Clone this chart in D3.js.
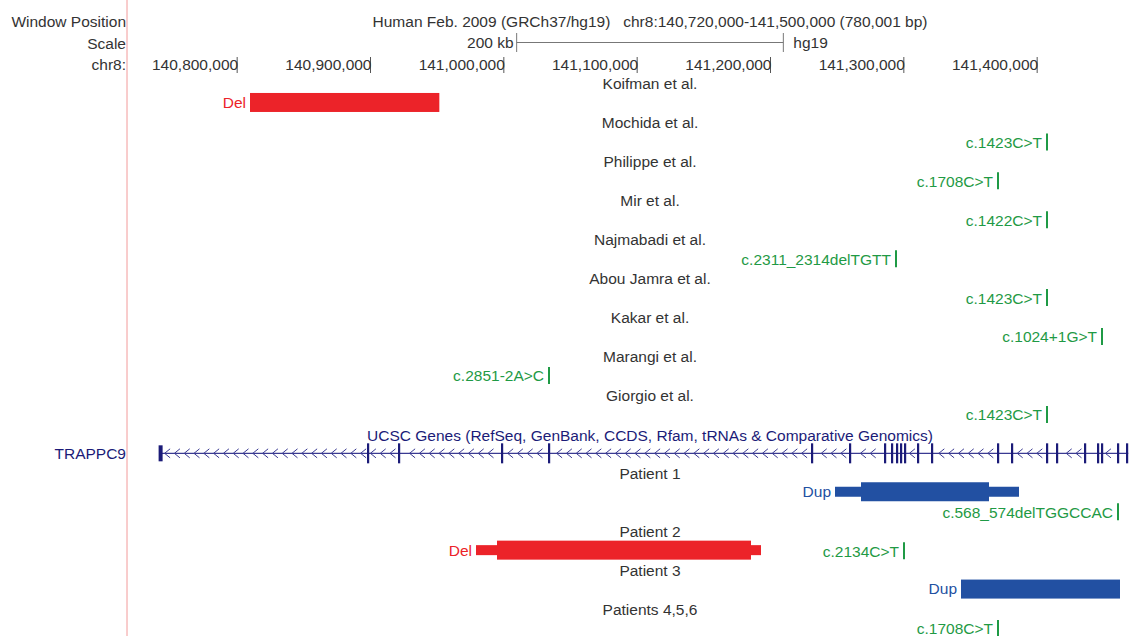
<!DOCTYPE html>
<html>
<head>
<meta charset="utf-8">
<script src="https://cdn.jsdelivr.net/npm/d3@7"></script>
<style>
  body { margin: 0; background: #fff; }
  text { font-family: "Liberation Sans", Arial, sans-serif; font-size: 15.5px; }
</style>
</head>
<body>
<div id="chart"></div>
<script>
// window shown in the browser
var windowStart = 140720000;
var windowEnd = 141500000;
var tickValues = [140800000, 140900000, 141000000, 141100000, 141200000, 141300000, 141400000];
var headerText = "Human Feb. 2009 (GRCh37/hg19)   chr8:140,720,000-141,500,000 (780,001 bp)";
var sideLabels = ["Window Position", "Scale", "chr8:"];

// published cases
var studies = ["Koifman et al.", "Mochida et al.", "Philippe et al.", "Mir et al.", "Najmabadi et al.",
               "Abou Jamra et al.", "Kakar et al.", "Marangi et al.", "Giorgio et al."];
var studyVariants = [
  {owner: "Koifman et al.", lane: 0, kind: "Del", start: 140810000, end: 140952000},
  {owner: "Mochida et al.", lane: 0, kind: "snv", name: "c.1423C>T", pos: 141407750},
  {owner: "Philippe et al.", lane: 0, kind: "snv", name: "c.1708C>T", pos: 141371000},
  {owner: "Mir et al.", lane: 0, kind: "snv", name: "c.1422C>T", pos: 141407750},
  {owner: "Najmabadi et al.", lane: 0, kind: "snv", name: "c.2311_2314delTGTT", pos: 141294500},
  {owner: "Abou Jamra et al.", lane: 0, kind: "snv", name: "c.1423C>T", pos: 141407750},
  {owner: "Kakar et al.", lane: 0, kind: "snv", name: "c.1024+1G>T", pos: 141449000},
  {owner: "Marangi et al.", lane: 0, kind: "snv", name: "c.2851-2A>C", pos: 141034250},
  {owner: "Giorgio et al.", lane: 0, kind: "snv", name: "c.1423C>T", pos: 141407750}
];

// gene model (TRAPPC9, minus strand)
var geneName = "TRAPPC9";
var geneTrackTitle = "UCSC Genes (RefSeq, GenBank, CCDS, Rfam, tRNAs & Comparative Genomics)";
var geneStart = 140742586;
var geneEnd = 141468678;
var exonStarts = [140742586, 140898500, 140921750, 140999000, 141034250, 141231500, 141260000,
                  141286250, 141291500, 141295250, 141298250, 141301250, 141311000, 141321500,
                  141371000, 141381500, 141407750, 141415250, 141436250, 141446000, 141449000,
                  141461000, 141467750];

// patients of this report
var patients = ["Patient 1", "Patient 2", "Patient 3", "Patients 4,5,6"];
var patientVariants = [
  {owner: "Patient 1", lane: 0, kind: "Dup", start: 141248750, end: 141386750, coreStart: 141268250, coreEnd: 141364250},
  {owner: "Patient 1", lane: 1, kind: "snv", name: "c.568_574delTGGCCAC", pos: 141461000},
  {owner: "Patient 2", lane: 0, kind: "Del", start: 140979500, end: 141193250, coreStart: 140995250, coreEnd: 141185750},
  {owner: "Patient 2", lane: 0, kind: "snv", name: "c.2134C>T", pos: 141300500},
  {owner: "Patient 3", lane: 0, kind: "Dup", start: 141343250, end: 141462500},
  {owner: "Patients 4,5,6", lane: 0, kind: "snv", name: "c.1708C>T", pos: 141371000}
];

var width = 1129, height = 636;
var grey = "#333", green = "#1f9a45", red = "#ec2329", blue = "#2250a2", navy = "#1b1b78";

var svg = d3.select("#chart").append("svg")
    .attr("width", width)
    .attr("height", height)

var x = d3.scaleLinear().domain([windowStart, windowEnd]).range([130, 1170]);
var mid = (windowStart + windowEnd) / 2;

// work out which row each thing goes in
var rowOf = {};
var row = 0;
studies.forEach(function(s) {
  rowOf[s] = row;
  var lanes = d3.max(studyVariants.filter(v => v.owner == s), v => v.lane) + 1;
  row += 1 + lanes;
});
var titleRow = row, geneRow = row + 1;
row += 2;
patients.forEach(function(p) {
  rowOf[p] = row;
  var lanes = d3.max(patientVariants.filter(v => v.owner == p), v => v.lane) + 1;
  row += 1 + lanes;
});
var y = d3.scaleLinear().domain([0, row - 1]).range([84, 629]);

// left border line
svg.append("line")
    .attr("x1", 127).attr("x2", 127).attr("y1", 0).attr("y2", height)
    .attr("stroke", "#f29a9a").attr("stroke-width", 1)

svg.selectAll(".side")
    .data(sideLabels)
    .enter().append("text")
    .attr("class", "side")
    .attr("x", 126)
    .attr("y", (d, i) => 27 + i * 21.5)
    .attr("text-anchor", "end")
    .attr("fill", grey)
    .text(d => d)

svg.append("text")
    .attr("x", x(mid)).attr("y", 27)
    .attr("text-anchor", "middle")
    .attr("fill", grey)
    .style("white-space", "pre")
    .text(headerText)

// scale bar
var sb = svg.append("g").attr("stroke", "#777").attr("stroke-width", 1)
sb.append("line").attr("x1", x(mid - 100000)).attr("x2", x(mid + 100000)).attr("y1", 42.5).attr("y2", 42.5)
sb.append("line").attr("x1", x(mid - 100000)).attr("x2", x(mid - 100000)).attr("y1", 33).attr("y2", 52)
sb.append("line").attr("x1", x(mid + 100000)).attr("x2", x(mid + 100000)).attr("y1", 33).attr("y2", 52)
svg.append("text").attr("x", x(mid - 100000) - 3).attr("y", 48)
    .attr("text-anchor", "end").attr("fill", grey).text("200 kb")
svg.append("text").attr("x", x(mid + 100000) + 10).attr("y", 48)
    .attr("fill", grey).text("hg19")

// chromosome axis
var axis = svg.append("g")
    .attr("transform", "translate(0,57)")
    .call(d3.axisBottom(x).tickValues(tickValues).tickSize(16).tickFormat(d3.format(",")))
axis.select(".domain").remove()
axis.selectAll("line").attr("stroke", "#555")
axis.selectAll("text")
    .attr("text-anchor", "end")
    .attr("x", 1)
    .attr("y", 13)
    .attr("dy", 0)
    .attr("fill", grey)
    .style("font-size", "15.5px")
    .style("font-family", "Liberation Sans, Arial, sans-serif")

// row labels
svg.selectAll(".rowlabel")
    .data(studies.concat(patients))
    .enter().append("text")
    .attr("class", "rowlabel")
    .attr("x", x(mid))
    .attr("y", d => y(rowOf[d]))
    .attr("dy", "0.35em")
    .attr("text-anchor", "middle")
    .attr("fill", grey)
    .text(d => d)

function drawVariants(list) {
  var g = svg.append("g")
  list.forEach(function(v) {
    var cy = y(rowOf[v.owner] + 1 + v.lane);
    if (v.kind == "snv") {
      g.append("line")
          .attr("x1", x(v.pos)).attr("x2", x(v.pos))
          .attr("y1", cy - 9).attr("y2", cy + 8)
          .attr("stroke", green).attr("stroke-width", 2)
      g.append("text")
          .attr("x", x(v.pos) - 5).attr("y", cy)
          .attr("dy", "0.35em")
          .attr("text-anchor", "end")
          .attr("fill", green)
          .text(v.name)
    } else {
      var col = v.kind == "Del" ? red : blue;
      var by = cy - 1;
      g.append("rect")
          .attr("x", x(v.start)).attr("width", x(v.end) - x(v.start))
          .attr("y", v.coreStart ? by - 5 : by - 9.5)
          .attr("height", v.coreStart ? 10 : 19)
          .attr("fill", col)
      if (v.coreStart) {
        g.append("rect")
            .attr("x", x(v.coreStart)).attr("width", x(v.coreEnd) - x(v.coreStart))
            .attr("y", by - 9.5).attr("height", 19)
            .attr("fill", col)
      }
      g.append("text")
          .attr("x", x(v.start) - 4).attr("y", by)
          .attr("dy", "0.35em")
          .attr("text-anchor", "end")
          .attr("fill", col)
          .text(v.kind)
    }
  })
}
drawVariants(studyVariants)
drawVariants(patientVariants)

// gene track
svg.append("text")
    .attr("x", x(mid)).attr("y", y(titleRow) + 1.5)
    .attr("dy", "0.35em")
    .attr("text-anchor", "middle")
    .attr("fill", navy)
    .text(geneTrackTitle)

var gy = y(geneRow) - 0.5;
svg.append("text")
    .attr("x", 126).attr("y", gy)
    .attr("dy", "0.35em")
    .attr("text-anchor", "end")
    .attr("fill", navy)
    .text(geneName)

var gene = svg.append("g")
gene.append("line")
    .attr("x1", x(geneStart)).attr("x2", x(geneEnd))
    .attr("y1", gy).attr("y2", gy)
    .attr("stroke", "#3a3a92").attr("stroke-width", 1.2)

// chevrons in the introns, pointing left (minus strand)
var exonX = exonStarts.map(d => x(d));
var chevrons = d3.range(x(geneStart) + 7, x(geneEnd) - 3, 9.8)
    .filter(cx => d3.min(exonX, ex => Math.abs(ex - cx)) > 4);
gene.selectAll(".chev")
    .data(chevrons)
    .enter().append("path")
    .attr("class", "chev")
    .attr("d", cx => "M" + (cx + 3) + "," + (gy - 4.5) + "L" + (cx - 2.5) + "," + gy + "L" + (cx + 3) + "," + (gy + 4.5))
    .attr("fill", "none")
    .attr("stroke", "#3a3a92")
    .attr("stroke-width", 1)

gene.selectAll(".exon")
    .data(exonStarts)
    .enter().append("rect")
    .attr("class", "exon")
    .attr("x", (d, i) => x(d) - (i == 0 ? 1.5 : 1))
    .attr("width", (d, i) => i == 0 ? 4 : 2.2)
    .attr("y", (d, i) => i == 0 ? gy - 8 : gy - 10)
    .attr("height", (d, i) => i == 0 ? 16 : 20)
    .attr("fill", navy)
</script>
</body>
</html>
